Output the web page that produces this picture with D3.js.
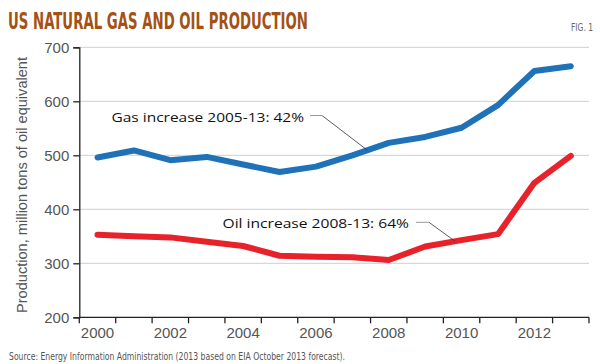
<!DOCTYPE html>
<html><head><meta charset="utf-8">
<script src="https://cdn.jsdelivr.net/npm/d3@7"></script>
<style>
html,body{margin:0;padding:0;background:#fff;}
svg{display:block;}
</style></head>
<body><svg id="c" width="600" height="364"></svg>
<script>
const years = [2000,2001,2002,2003,2004,2005,2006,2007,2008,2009,2010,2011,2012,2013];
const gas = [496,509,491,497,483,469,479,500,523,534,551,593,656,665];
const oil = [353,350,348,340,332,314,312,311,306,331,343,354,449,499];
const yTicks = [200,300,400,500,600,700];
const xTickLabels = [2000,2002,2004,2006,2008,2010,2012];
const title = "US NATURAL GAS AND OIL PRODUCTION";
const yLabel = "Production, million tons of oil equivalent";
const source = "Source: Energy Information Administration (2013 based on EIA October 2013 forecast).";
const gasNote = "Gas increase 2005-13: 42%";
const oilNote = "Oil increase 2008-13: 64%";

const svg = d3.select("#c");
const L = 79.3, R = 589, T = 47.3, B = 317.3;
const x = d3.scaleBand().domain(years).range([L, R]).paddingInner(0).paddingOuter(0);
const y = d3.scaleLinear().domain([200, 700]).range([B, T]);
const cx = d => x(d) + x.bandwidth()/2;

// title
svg.append("text").attr("x", 8).attr("y", 28.5)
  .attr("font-family", "'Liberation Sans Narrow','DejaVu Sans Condensed','DejaVu Sans',sans-serif")
  .attr("font-stretch", "condensed")
  .attr("font-weight", "bold").attr("font-size", 23)
  .attr("fill", "#a45214")
  .attr("textLength", 300).attr("lengthAdjust", "spacingAndGlyphs")
  .text(title);
svg.append("text").attr("x", 593).attr("y", 31).attr("text-anchor", "end")
  .attr("font-family", "'Liberation Sans Narrow','DejaVu Sans Condensed',sans-serif")
  .attr("font-size", 10).attr("fill", "#666")
  .attr("textLength", 22).attr("lengthAdjust", "spacingAndGlyphs")
  .text("FIG. 1");

// gridlines
svg.append("g").selectAll("line").data(yTicks.filter(d => d > 200)).join("line")
  .attr("x1", L).attr("x2", R).attr("y1", d => y(d)).attr("y2", d => y(d))
  .attr("stroke", "#cfcfcf").attr("stroke-width", 1);

// y axis
const yAxis = svg.append("g").attr("transform", `translate(${L},0)`)
  .call(d3.axisLeft(y).tickValues(yTicks).tickSize(6).tickPadding(4));
yAxis.select(".domain").attr("stroke", "#222").attr("stroke-width", 1.3);
yAxis.selectAll(".tick line").attr("stroke", "#222").attr("stroke-width", 1.3);
yAxis.selectAll("text").attr("font-family", "'Liberation Sans',Arial,sans-serif")
  .attr("font-size", 15).attr("fill", "#555");

// x axis: ticks at band edges
const edges = years.map(d => x(d)).concat([R]);
const xg = svg.append("g");
xg.append("line").attr("x1", L).attr("x2", R).attr("y1", B).attr("y2", B)
  .attr("stroke", "#222").attr("stroke-width", 1.3);
xg.selectAll("line.t").data(edges).join("line").attr("class", "t")
  .attr("x1", d => d).attr("x2", d => d).attr("y1", B).attr("y2", B + 6)
  .attr("stroke", "#222").attr("stroke-width", 1.3);
xg.selectAll("text").data(xTickLabels).join("text")
  .attr("x", d => cx(d)).attr("y", 337.5).attr("text-anchor", "middle")
  .attr("font-family", "'Liberation Sans',Arial,sans-serif")
  .attr("font-size", 15).attr("fill", "#555")
  .text(d => d);

// y label
svg.append("text").attr("transform", `translate(27,185) rotate(-90)`)
  .attr("text-anchor", "middle")
  .attr("font-family", "'Liberation Sans',Arial,sans-serif")
  .attr("font-size", 14).attr("fill", "#555")
  .attr("textLength", 256).attr("lengthAdjust", "spacingAndGlyphs")
  .text(yLabel);

// lines
const line = d3.line().x((d, i) => cx(years[i])).y(d => y(d));
svg.append("path").datum(oil).attr("d", line).attr("fill", "none")
  .attr("stroke", "#e8222b").attr("stroke-width", 6).attr("stroke-linecap", "round").attr("stroke-linejoin", "round");
svg.append("path").datum(gas).attr("d", line).attr("fill", "none")
  .attr("stroke", "#1f72b8").attr("stroke-width", 6).attr("stroke-linecap", "round").attr("stroke-linejoin", "round");

// annotations
function note(txt, tx, ty, tw, hx1, hx2, hy, lx, lyear, lval) {
  svg.append("text").attr("x", tx).attr("y", ty)
    .attr("font-family", "'Open Sans','Liberation Sans',Arial,sans-serif")
    .attr("font-size", 13.5).attr("fill", "#111")
    .attr("textLength", tw).attr("lengthAdjust", "spacingAndGlyphs")
    .text(txt);
  svg.append("line").attr("x1", hx1).attr("x2", hx2).attr("y1", hy).attr("y2", hy)
    .attr("stroke", "#999").attr("stroke-width", 1);
  svg.append("line").attr("x1", hx2).attr("y1", hy).attr("x2", lx).attr("y2", y(lval))
    .attr("stroke", "#333").attr("stroke-width", 0.8);
}
// gas pointer ends on line between 2007 and 2008
const gx = 367.3, gv = gas[7] + (gas[8]-gas[7]) * (gx - cx(2007)) / (cx(2008)-cx(2007));
note(gasNote, 111.5, 121.8, 192.5, 310, 322, 115.5, gx, null, gv);
const ox = 455, ov = oil[9] + (oil[10]-oil[9]) * (ox - cx(2009)) / (cx(2010)-cx(2009));
note(oilNote, 222.5, 227.5, 186.5, 416, 429, 222.3, ox, null, ov);

// source
svg.append("text").attr("x", 9).attr("y", 360)
  .attr("font-family", "'Liberation Sans Narrow','DejaVu Sans Condensed',sans-serif")
  .attr("font-stretch", "condensed")
  .attr("font-size", 10.5).attr("fill", "#555")
  .attr("textLength", 336).attr("lengthAdjust", "spacingAndGlyphs")
  .text(source);
</script></body></html>
